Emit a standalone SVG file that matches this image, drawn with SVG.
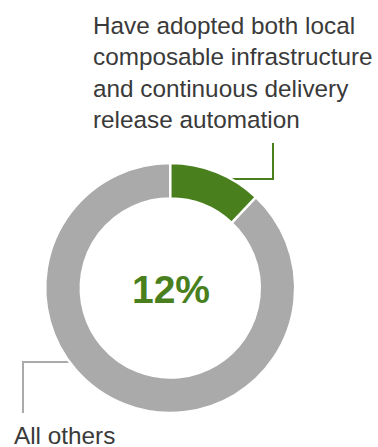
<svg xmlns="http://www.w3.org/2000/svg" width="378" height="447" viewBox="0 0 378 447">
<style>
.lbl{font-family:"Liberation Sans",Arial,sans-serif;font-size:24.3px;fill:#3a3a3a}
.pct{font-family:"Liberation Sans",Arial,sans-serif;font-size:39px;font-weight:bold;fill:#4a7f1e}
.seg{stroke:#ffffff;stroke-width:2.5;stroke-linejoin:miter}
.lead{fill:none;stroke-width:2}
</style>
<rect width="378" height="447" fill="#ffffff"/>
<g id="connectors">
<polyline class="lead" stroke="#4a7f1e" points="228,179 273,179 273,143"/>
<polyline class="lead" stroke="#aaaaaa" points="72,362 23,362 23,413"/>
</g>
<g id="donut">
<g id="seg-others">
<path class="seg" fill="#aaaaaa" d="M 255.9 197 A 125 125 0 1 1 170.3 163 L 170.3 198.5 A 89.5 89.5 0 1 0 231.6 222.8 Z"/>
</g>
<g id="seg-adopted">
<path class="seg" fill="#4a7f1e" d="M 170.3 163 A 125 125 0 0 1 255.9 197 L 231.6 222.8 A 89.5 89.5 0 0 0 170.3 198.5 Z"/>
</g>
</g>
<g id="center-label">
<text class="pct" x="171" y="303" text-anchor="middle">12%</text>
</g>
<g id="label-adopted">
<text class="lbl" x="93" y="33.5">Have adopted both local</text>
<text class="lbl" x="93" y="65">composable infrastructure</text>
<text class="lbl" x="93" y="96.5">and continuous delivery</text>
<text class="lbl" x="93" y="128">release automation</text>
</g>
<g id="label-others">
<text class="lbl" x="14" y="443.5">All others</text>
</g>
</svg>
